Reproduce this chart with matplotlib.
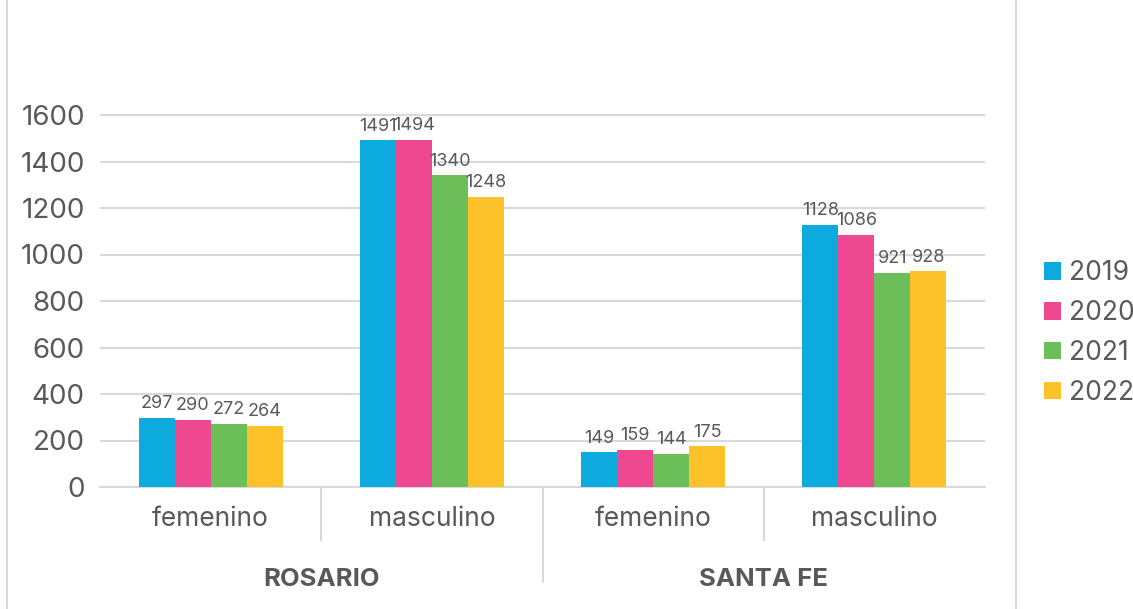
import matplotlib
matplotlib.use('Agg')
import matplotlib.pyplot as plt
import matplotlib.transforms as mtransforms
from matplotlib.lines import Line2D
from matplotlib.patches import Patch
import numpy as np

# data
regions = ['ROSARIO', 'SANTA FE']
sexes = ['femenino', 'masculino']
years = ['2019', '2020', '2021', '2022']
values_2019 = [297, 1491, 149, 1128]
values_2020 = [290, 1494, 159, 1086]
values_2021 = [272, 1340, 144, 921]
values_2022 = [264, 1248, 175, 928]
series = [values_2019, values_2020, values_2021, values_2022]
colors = ['#0DABDD', '#EE4891', '#6CBE59', '#FDC22A']
y_ticks = [0, 200, 400, 600, 800, 1000, 1200, 1400, 1600]

text_color = '#595959'
grid_color = '#D9D9D9'
plt.rcParams['font.family'] = ['Inter', 'DejaVu Sans']

W, H = 1133, 609
fig = plt.figure(figsize=(W / 100, H / 100), dpi=100)
ax = fig.add_axes([100 / W, 1 - 487 / H, 885 / W, 418.5 / H])

n_cat = len(regions) * len(sexes)
x = np.arange(n_cat)
bar_w = 0.65 / len(years)
for i, (vals, col) in enumerate(zip(series, colors)):
    pos = x + (i - 1.5) * bar_w
    bars = ax.bar(pos, vals, width=bar_w, color=col, zorder=3)
    for b, v in zip(bars, vals):
        ax.annotate(str(v), (b.get_x() + b.get_width() / 2, v),
                    xytext=(0, 4), textcoords='offset points',
                    ha='center', va='bottom', fontsize=13, color=text_color)

ax.set_xlim(-0.5, n_cat - 0.5)
ax.set_ylim(0, 1800)
ax.set_yticks(y_ticks)
ax.set_yticklabels([str(t) for t in y_ticks], fontsize=20, color=text_color)
ax.tick_params(axis='y', length=0, pad=11)
ax.set_xticks([])
ax.grid(axis='y', color=grid_color, linewidth=1.5, zorder=0)
for s in ['top', 'right', 'left']:
    ax.spines[s].set_visible(False)
ax.spines['bottom'].set_color(grid_color)
ax.spines['bottom'].set_linewidth(1.5)

# multi-level category labels and separators
trans = mtransforms.blended_transform_factory(ax.transData, ax.transAxes)
px = 1 / 418.5
for k in range(n_cat):
    ax.text(x[k], -32 * px, sexes[k % 2], transform=trans, ha='center',
            va='center', fontsize=19, color=text_color)
for r, name in enumerate(regions):
    ax.text(2 * r + 0.5, -92 * px, name, transform=trans, ha='center',
            va='center', fontsize=18.5, fontweight='bold', color=text_color)
for xs, depth in [(0.5, 53), (1.5, 95), (2.5, 53)]:
    ax.add_line(Line2D([xs, xs], [0, -depth * px], transform=trans,
                       color=grid_color, linewidth=1.5, clip_on=False))

# outer frame lines
for fx in [7 / W, 1016 / W]:
    fig.add_artist(Line2D([fx, fx], [0, 1], transform=fig.transFigure,
                          color=grid_color, linewidth=1.5))

handles = [Patch(facecolor=c, edgecolor='none') for c in colors]
leg = fig.legend(handles, years, loc='center left',
                 bbox_to_anchor=(1044 / W, 1 - 333 / H), frameon=False,
                 fontsize=19, handlelength=0.65, handleheight=0.65,
                 handletextpad=0.3, labelspacing=0.52,
                 borderpad=0, borderaxespad=0)
for t in leg.get_texts():
    t.set_color(text_color)

fig.savefig('out.png', dpi=100)
